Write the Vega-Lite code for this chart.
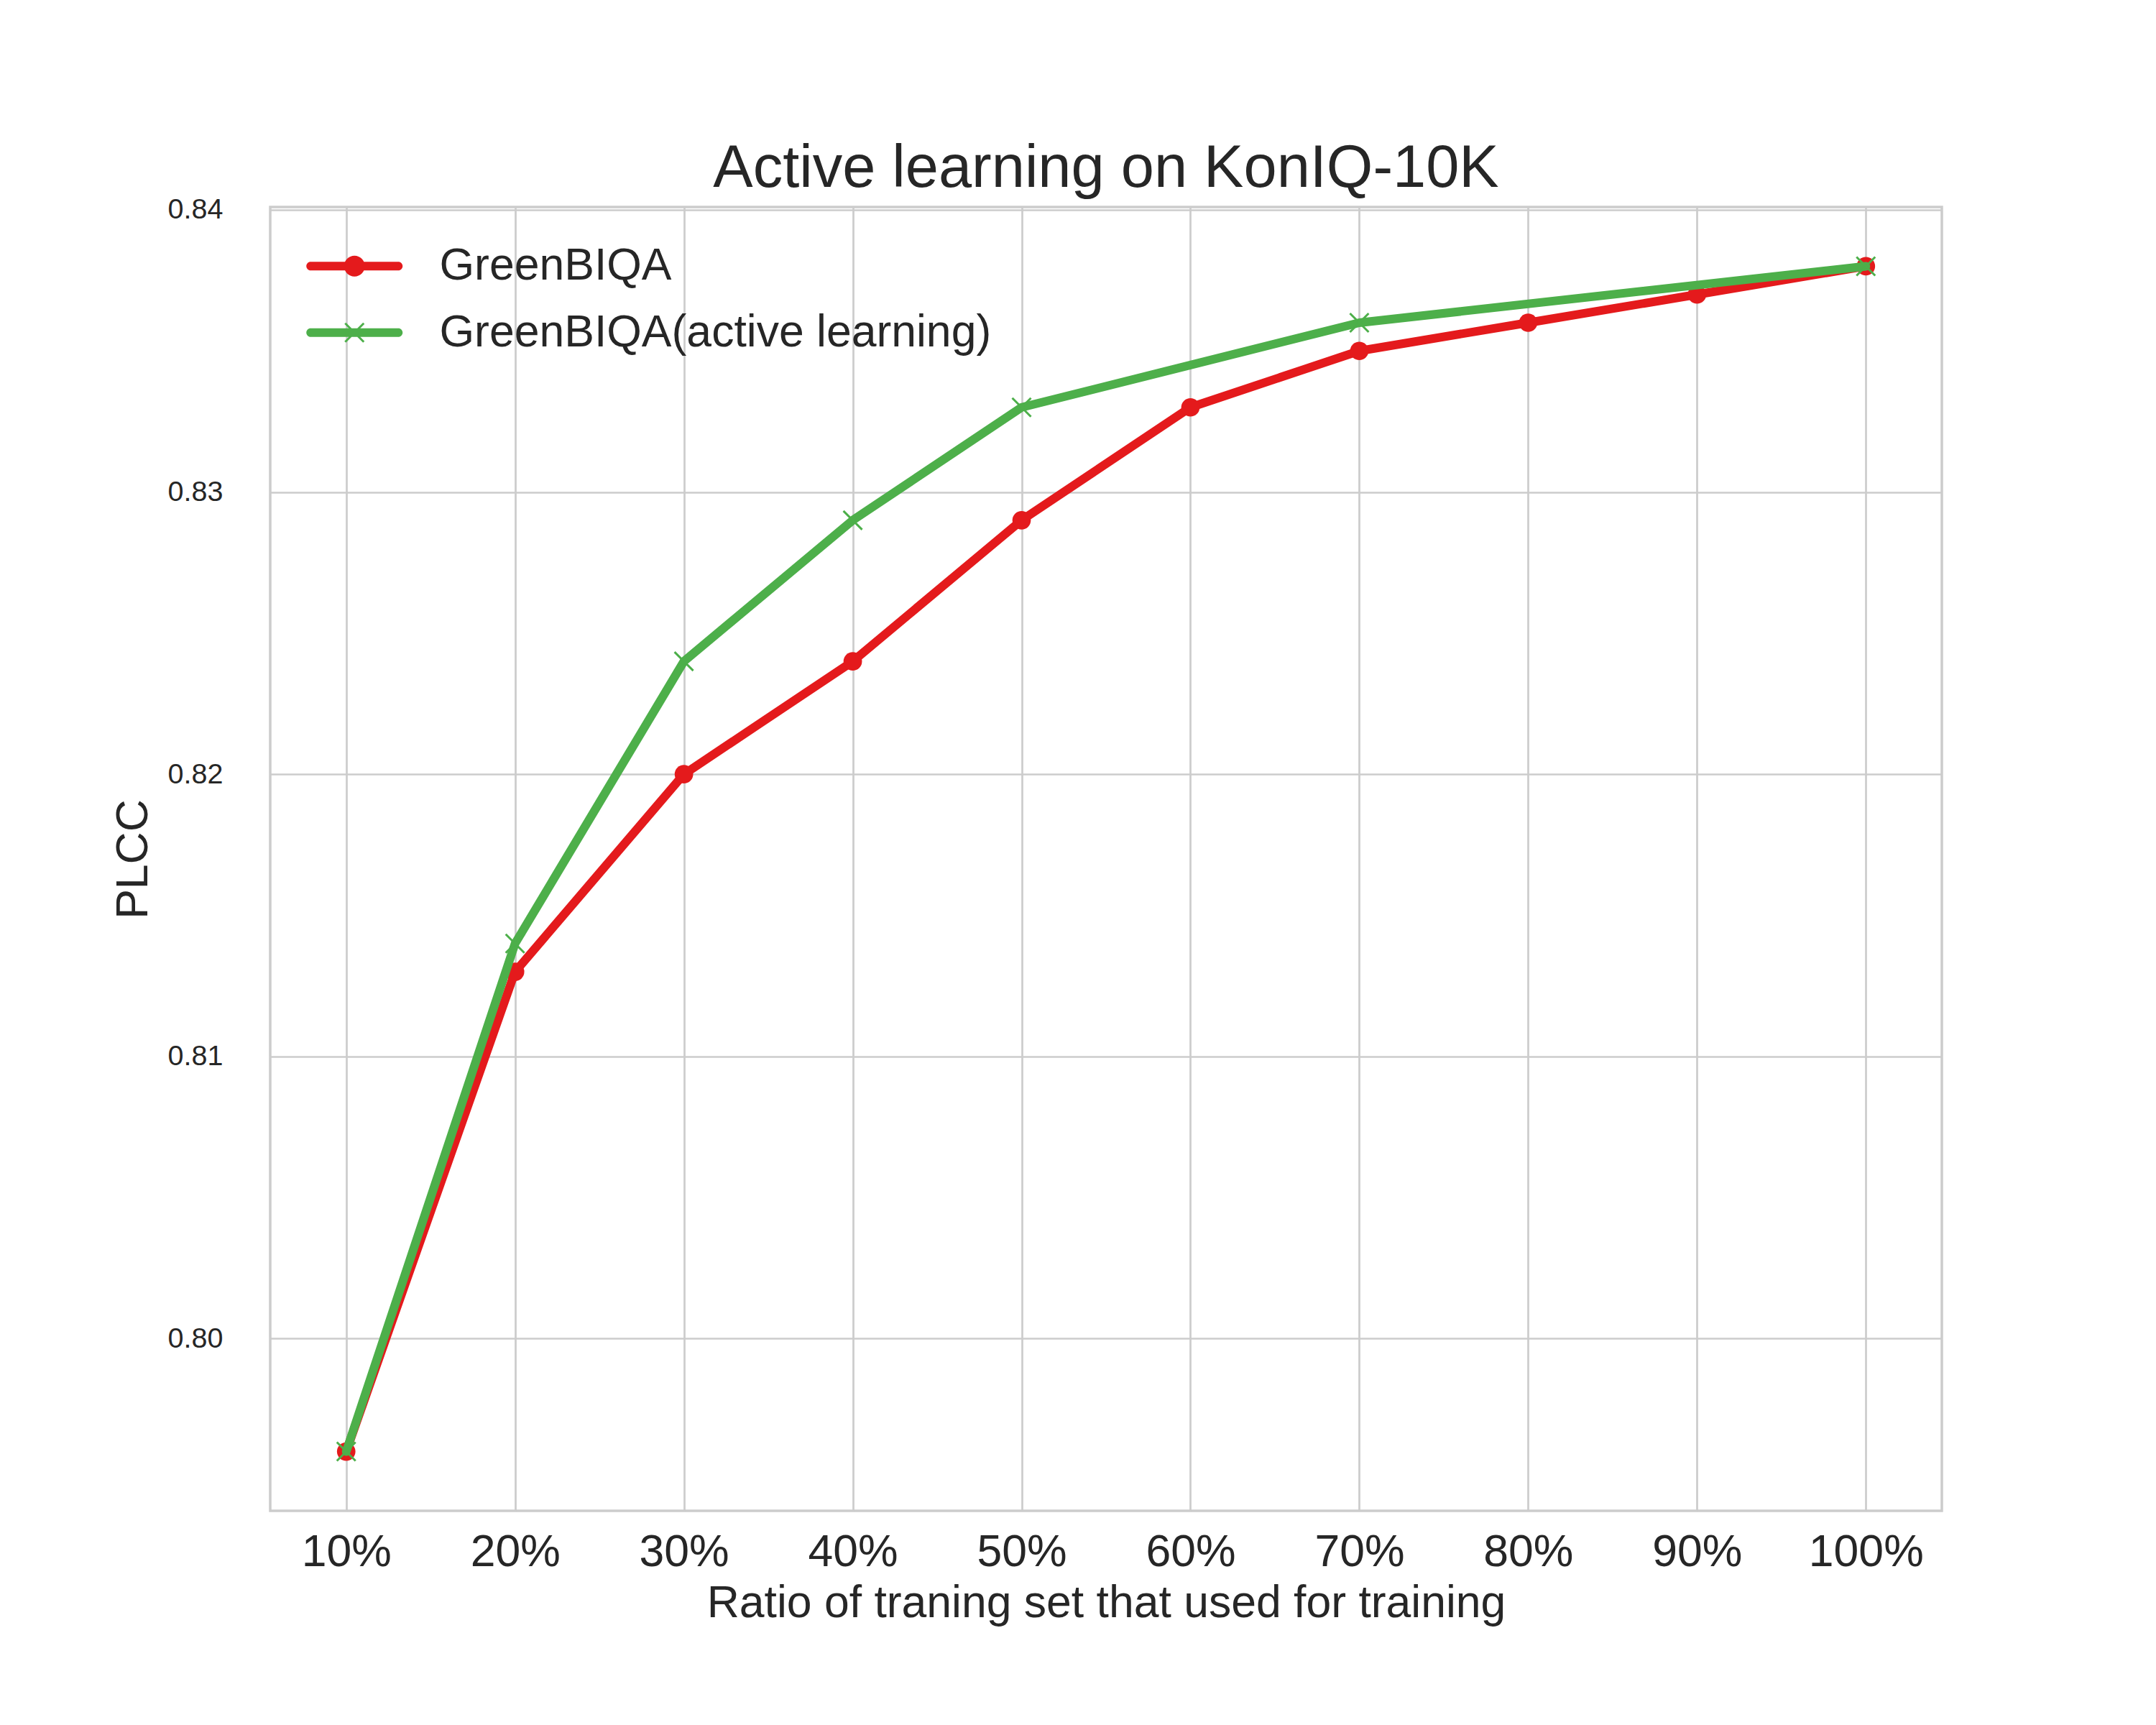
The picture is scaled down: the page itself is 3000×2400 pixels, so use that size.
{
  "$schema": "https://vega.github.io/schema/vega-lite/v6.json",
  "autosize": {"type": "none"},
  "width": 2326,
  "height": 1814,
  "padding": {"left": 376, "top": 288, "right": 298, "bottom": 298},
  "background": "white",
  "title": {
    "text": "Active learning on KonIQ-10K",
    "fontSize": 83,
    "fontWeight": "normal",
    "font": "Liberation Sans",
    "color": "#262626",
    "anchor": "middle",
    "baseline": "alphabetic",
    "offset": -71
  },
  "data": {
    "values": [
      {"ratio": "10%", "series": "GreenBIQA", "plcc": 0.796},
      {"ratio": "20%", "series": "GreenBIQA", "plcc": 0.813},
      {"ratio": "30%", "series": "GreenBIQA", "plcc": 0.820},
      {"ratio": "40%", "series": "GreenBIQA", "plcc": 0.824},
      {"ratio": "50%", "series": "GreenBIQA", "plcc": 0.829},
      {"ratio": "60%", "series": "GreenBIQA", "plcc": 0.833},
      {"ratio": "70%", "series": "GreenBIQA", "plcc": 0.835},
      {"ratio": "80%", "series": "GreenBIQA", "plcc": 0.836},
      {"ratio": "90%", "series": "GreenBIQA", "plcc": 0.837},
      {"ratio": "100%", "series": "GreenBIQA", "plcc": 0.838},
      {"ratio": "10%", "series": "GreenBIQA(active learning)", "plcc": 0.796},
      {"ratio": "20%", "series": "GreenBIQA(active learning)", "plcc": 0.814},
      {"ratio": "30%", "series": "GreenBIQA(active learning)", "plcc": 0.824},
      {"ratio": "40%", "series": "GreenBIQA(active learning)", "plcc": 0.829},
      {"ratio": "50%", "series": "GreenBIQA(active learning)", "plcc": 0.833},
      {"ratio": "70%", "series": "GreenBIQA(active learning)", "plcc": 0.836},
      {"ratio": "100%", "series": "GreenBIQA(active learning)", "plcc": 0.838}
    ]
  },
  "encoding": {
    "x": {
      "field": "ratio",
      "type": "ordinal",
      "scale": {
        "type": "point",
        "padding": 0.45,
        "domain": ["10%", "20%", "30%", "40%", "50%", "60%", "70%", "80%", "90%", "100%"]
      },
      "axis": {
        "title": "Ratio of traning set that used for training",
        "labelAngle": 0,
        "labelFontSize": 62.5,
        "labelPadding": 27,
        "titleFontSize": 62.5,
        "titlePadding": 10
      }
    },
    "y": {
      "field": "plcc",
      "type": "quantitative",
      "scale": {"domain": [0.7939, 0.8401], "nice": false, "zero": false},
      "axis": {
        "title": "PLCC",
        "values": [0.80, 0.81, 0.82, 0.83, 0.84],
        "format": ".2f",
        "labelFontSize": 39.5,
        "labelPadding": 66,
        "titleFontSize": 62.5,
        "titlePadding": 16
      }
    }
  },
  "layer": [
    {
      "transform": [{"filter": "datum.series === 'GreenBIQA'"}],
      "mark": {"type": "line", "strokeWidth": 12, "strokeCap": "round", "strokeJoin": "round"},
      "encoding": {
        "color": {
          "field": "series",
          "scale": {"domain": ["GreenBIQA", "GreenBIQA(active learning)"], "range": ["#e41a1c", "#4daf4a"]},
          "legend": {
            "title": null,
            "orient": "none",
            "legendX": 86,
            "legendY": 51,
            "encode": {
              "symbols": {
                "update": {
                  "shape": {"signal": "datum.value === 'GreenBIQA' ? 'M-2.033,-0.2L2.033,-0.2A0.2,0.2 0 0 1 2.033,0.2L-2.033,0.2A0.2,0.2 0 0 1 -2.033,-0.2ZM-0.483,0A0.483,0.483 0 1 1 0.483,0A0.483,0.483 0 1 1 -0.483,0Z' : 'M-2.033,-0.2L2.033,-0.2A0.2,0.2 0 0 1 2.033,0.2L-2.033,0.2A0.2,0.2 0 0 1 -2.033,-0.2ZM-0.398,-0.468L0.468,0.398L0.398,0.468L-0.468,-0.398ZM-0.468,0.398L0.398,-0.468L0.468,-0.398L-0.398,0.468Z'"},
                  "fill": {"scale": "color", "field": "value"},
                  "stroke": {"value": "transparent"},
                  "strokeWidth": {"value": 0},
                  "size": {"value": 3600},
                  "opacity": {"value": 1}
                }
              }
            }
          }
        }
      }
    },
    {
      "transform": [{"filter": "datum.series === 'GreenBIQA'"}],
      "mark": {"type": "point", "shape": "circle", "filled": true, "size": 660, "color": "#e41a1c", "opacity": 1}
    },
    {
      "transform": [{"filter": "datum.series !== 'GreenBIQA'"}],
      "mark": {"type": "line", "strokeWidth": 12, "strokeCap": "round", "strokeJoin": "round"},
      "encoding": {
        "color": {"field": "series"}
      }
    },
    {
      "transform": [{"filter": "datum.series !== 'GreenBIQA'"}],
      "mark": {
        "type": "point",
        "shape": "M-1,-1L1,1M-1,1L1,-1",
        "filled": false,
        "size": 676,
        "strokeWidth": 3,
        "color": "#4daf4a",
        "opacity": 1
      }
    }
  ],
  "config": {
    "font": "Liberation Sans",
    "view": {"stroke": "#cccccc", "strokeWidth": 3.5},
    "axis": {
      "grid": true,
      "gridColor": "#cccccc",
      "gridWidth": 2.7,
      "gridOpacity": 1,
      "ticks": false,
      "domain": false,
      "labelColor": "#262626",
      "titleColor": "#262626",
      "titleFontWeight": "normal",
      "labelFont": "Liberation Sans",
      "titleFont": "Liberation Sans"
    },
    "legend": {
      "padding": 0,
      "symbolSize": 3600,
      "symbolStrokeWidth": 0,
      "symbolOpacity": 1,
      "labelFontSize": 62.5,
      "labelFont": "Liberation Sans",
      "labelColor": "#262626",
      "labelOffset": 87,
      "rowPadding": 29.5,
      "labelLimit": 2000
    }
  }
}
